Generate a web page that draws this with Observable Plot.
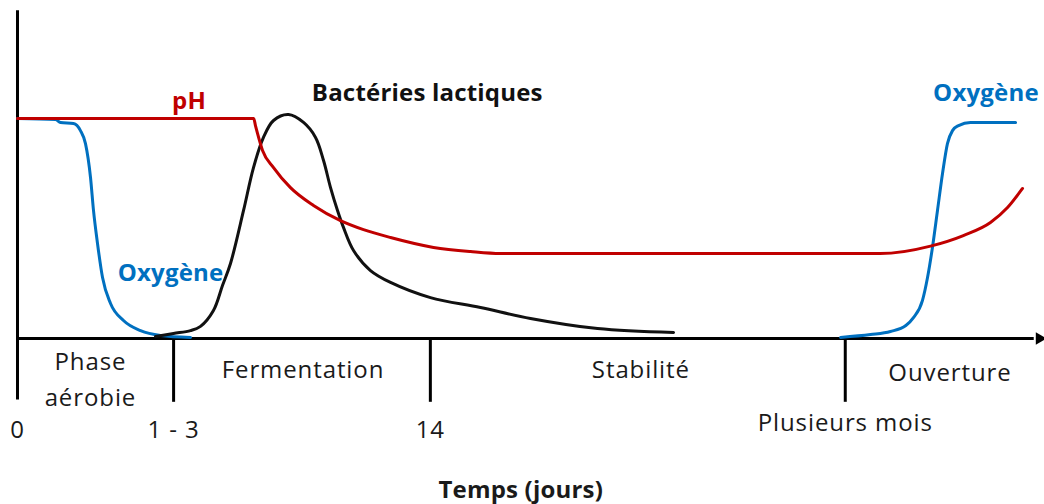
<!DOCTYPE html>
<html><head><meta charset="utf-8">
<script src="https://cdn.jsdelivr.net/npm/d3@7"></script>
<script src="https://cdn.jsdelivr.net/npm/@observablehq/plot@0.6"></script>
<style>
body{margin:0;background:#fff} svg{display:block}
#chart g[aria-label="text"] text{letter-spacing:0.9px}
#chart g[aria-label="text"][font-weight="700"] text{letter-spacing:0.2px}
</style>
</head><body><div id="chart"></div>
<script>
// Schematic time units (0 = start, 100 = end of axis arrow); level 0 = baseline, 1 = initial level
const phTime  = [0, 23.0, 23.17, 23.37, 23.86, 24.93, 26.58, 28.82, 31.45, 33.69, 36.32, 40.51, 44.11, 47.03, 56.8, 84.0, 88.9, 92.1, 94.74, 96.4, 97.86];
const phLevel = [1.0, 1.0, 0.968, 0.932, 0.855, 0.777, 0.686, 0.605, 0.536, 0.495, 0.459, 0.414, 0.395, 0.386, 0.386, 0.386, 0.42, 0.468, 0.527, 0.595, 0.682];

const oxyTime  = [0, 3.70, 4.19, 5.45, 6.13, 6.62, 7.11, 7.40, 7.79, 8.28, 9.06, 10.32, 11.98, 13.92, 16.85];
const oxyLevel = [1.0, 0.995, 0.982, 0.977, 0.945, 0.886, 0.732, 0.582, 0.432, 0.277, 0.159, 0.082, 0.036, 0.014, 0.005];

const oxy2Time  = [80.14, 83.06, 85.0, 86.5, 87.24, 88.12, 88.61, 89.09, 89.58, 90.07, 90.55, 91.04, 91.63, 92.79, 94.74, 97.18];
const oxy2Level = [0.005, 0.018, 0.032, 0.059, 0.095, 0.173, 0.277, 0.414, 0.582, 0.75, 0.886, 0.945, 0.968, 0.982, 0.982, 0.982];

const bactTime  = [13.44, 15.19, 16.85, 17.82, 19.08, 19.96, 20.74, 22.01, 22.98, 23.95, 24.93, 26.39, 27.85, 29.02, 29.80, 30.48, 31.16, 31.74, 32.72, 34.37, 36.32, 40.21, 45.08, 49.95, 56.48, 63.88];
const bactLevel = [0.009, 0.023, 0.036, 0.055, 0.127, 0.241, 0.341, 0.582, 0.777, 0.914, 0.991, 1.018, 0.982, 0.914, 0.809, 0.686, 0.582, 0.505, 0.40, 0.309, 0.255, 0.186, 0.141, 0.091, 0.045, 0.027];

const tickTime   = [0, 15.2, 40.2, 80.6];
const tickLabels = ["0", "1 - 3", "14", "Plusieurs mois"];
const tickLabelLevel = [-0.418, -0.418, -0.418, -0.386];

const phaseLabels = ["Phase", "aérobie", "Fermentation", "Stabilité", "Ouverture"];
const phaseTime   = [7.1, 7.1, 27.8, 60.7, 90.8];
const phaseLevel  = [-0.109, -0.273, -0.145, -0.145, -0.159];

const seriesLabels = ["pH", "Bactéries lactiques", "Oxygène", "Oxygène"];
const seriesTime   = [16.7, 39.9, 14.9, 94.3];
const seriesLevel  = [1.08, 1.114, 0.295, 1.114];
const seriesColors = ["#C00000", "#111111", "#0070C0", "#0070C0"];

const axisTitle = "Temps (jours)";
const axisEnd = 100;

const zip = (xs, ys) => xs.map((x, i) => ({u: x, v: ys[i]}));
const ph = zip(phTime, phLevel);
const oxy = zip(oxyTime, oxyLevel);
const oxy2 = zip(oxy2Time, oxy2Level);
const bact = zip(bactTime, bactLevel);
const ticks = tickTime.map((u, i) => ({u, v: tickLabelLevel[i], label: tickLabels[i]}));
const phases = phaseLabels.map((t, i) => ({u: phaseTime[i], v: phaseLevel[i], label: t}));
const series = seriesLabels.map((t, i) => ({u: seriesTime[i], v: seriesLevel[i], label: t, color: seriesColors[i]}));

const font = "'Open Sans', sans-serif";
const fs = 24;
const chart = Plot.plot({
  width: 1044, height: 504, margin: 0,
  x: {domain: [-1.655, axisEnd], axis: null},
  y: {domain: [-0.7545, 1.5364], axis: null},
  style: {fontFamily: font, background: "#fff"},
  marks: [
    Plot.ruleX([0], {y1: -0.28, y2: 1.49, stroke: "#000", strokeWidth: 3}),
    Plot.ruleX(tickTime.slice(1), {x: d => d, y1: 0, y2: -0.29, stroke: "#000", strokeWidth: 3}),
    Plot.ruleY([0], {x1: 0, x2: axisEnd - 1.0, stroke: "#000", strokeWidth: 3}),
    Plot.dot([axisEnd - 0.5], {x: d => d, y: 0, symbol: "triangle", rotate: 90, r: 4.6, fill: "#000", stroke: "none"}),
    Plot.line(oxy, {x: "u", y: "v", stroke: "#0070C0", strokeWidth: 3, curve: "monotone-x"}),
    Plot.line(oxy2, {x: "u", y: "v", stroke: "#0070C0", strokeWidth: 3, curve: "monotone-x"}),
    Plot.line(bact, {x: "u", y: "v", stroke: "#111", strokeWidth: 3, curve: "catmull-rom"}),
    Plot.line(ph, {x: "u", y: "v", stroke: "#C00000", strokeWidth: 3, curve: "monotone-x"}),
    Plot.text(ticks, {x: "u", y: "v", text: "label", fontSize: fs, fill: "#1a1a1a"}),
    Plot.text(phases, {x: "u", y: "v", text: "label", fontSize: fs, fill: "#1a1a1a"}),
    Plot.text(series, {x: "u", y: "v", text: "label", fontSize: fs, fontWeight: 700, fill: "color"}),
    Plot.text([axisTitle], {x: 49.0, y: -0.69, text: d => d, fontSize: fs, fontWeight: 700, fill: "#1a1a1a"})
  ]
});
document.getElementById("chart").append(chart);
</script>
</body></html>
